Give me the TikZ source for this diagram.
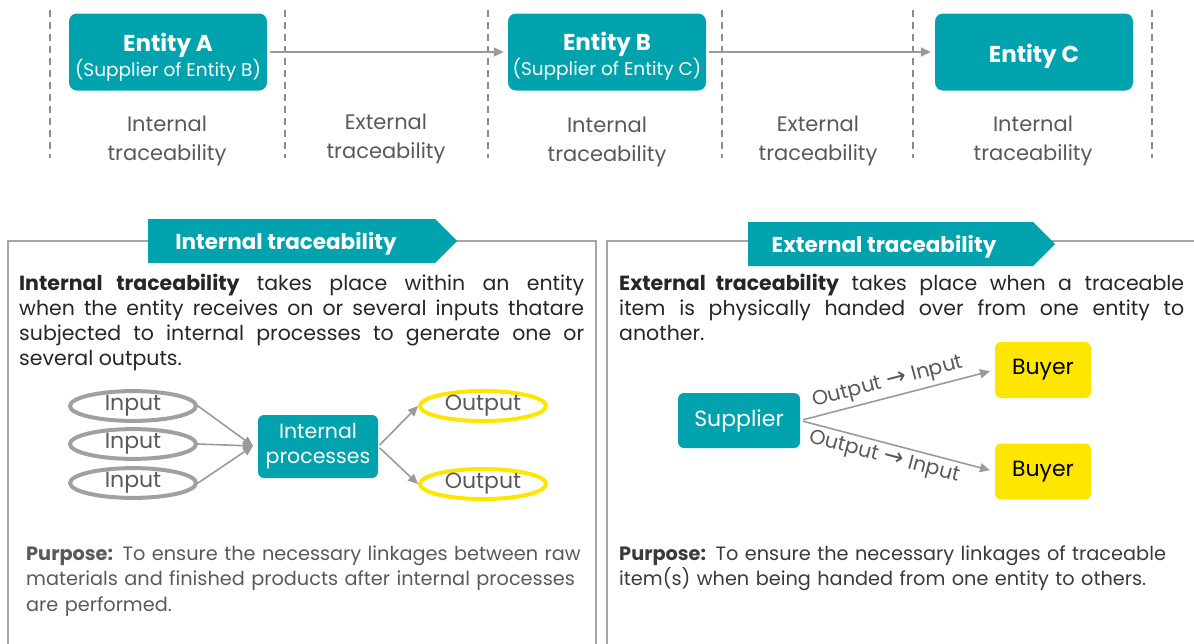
\documentclass[tikz,border=0pt]{standalone}
\usepackage{fontspec}
\setmainfont{Poppins}
\newfontfamily\symfont{DejaVu Sans}
\usetikzlibrary{arrows.meta,shapes.geometric}
\definecolor{teal0}{HTML}{00A3AD}
\definecolor{yel}{HTML}{FFE600}
\definecolor{arrg}{HTML}{9A9A9A}
\definecolor{ellg}{HTML}{A0A0A0}
\definecolor{txtg}{HTML}{595959}
\definecolor{txtd}{HTML}{262626}
\definecolor{txtm}{HTML}{3A3A3A}
\definecolor{panelg}{HTML}{A6A6A6}
\definecolor{dashg}{HTML}{8C8C8C}
\begin{document}
\begin{tikzpicture}[x=1pt,y=-1pt,
  ent/.style={rounded corners=8pt, fill=teal0, minimum width=198pt, minimum height=77pt, inner sep=0pt},
  enttxt/.style={text=white, align=center, inner sep=0pt, font=\fontsize{18.5}{25}\selectfont},
  toplab/.style={text=txtg, align=center, inner sep=0pt, font=\fontsize{21}{29}\selectfont},
  sep/.style={dashg, line width=1.3pt, dash pattern=on 7pt off 5pt},
  arr/.style={arrg, line width=1.6pt, -{Triangle[length=10pt,width=9pt]}},
  panel/.style={panelg, line width=2pt},
  bann/.style={text=white, inner sep=0pt, font=\bfseries\fontsize{21.5}{24}\selectfont},
  para/.style={text=txtd, text width=565pt, inner sep=0pt, align=justify, font=\fontsize{20.5}{25}\selectfont},
  purp/.style={text=txtg, text width=575pt, inner sep=0pt, align=left, font=\fontsize{19.3}{25.5}\selectfont},
  inell/.style={ellipse, draw=ellg, line width=4pt, minimum width=126pt, minimum height=28pt, inner sep=0pt, text=txtg, font=\fontsize{22}{24}\selectfont},
  outell/.style={inell, draw=yel},
  tealbox/.style={rounded corners=6pt, fill=teal0, text=white, align=center, inner sep=0pt, font=\fontsize{20.5}{25}\selectfont},
  buybox/.style={rounded corners=6pt, fill=yel, text=black, inner sep=0pt, minimum width=96pt, minimum height=56pt, font=\fontsize{22}{24}\selectfont},
  elab/.style={text=txtg, inner sep=4pt, font=\fontsize{20.5}{24}\selectfont}
]
\useasboundingbox (0,0) rectangle (1194,643);

% dashed separators
\foreach \xx in {50,285,488,722,913,1152} \draw[sep] (\xx,10) -- (\xx,158);

% entities
\node[ent] (A) at (168,52) {};
\node[ent] (B) at (607,52) {};
\node[ent] (C) at (1034,52) {};
\node[enttxt] (At) at (168,57) {{\bfseries\fontsize{23}{25}\selectfont Entity A}\\(Supplier of Entity B)};
\node[enttxt] (Bt) at (607,56.5) {{\bfseries\fontsize{23}{25}\selectfont Entity B}\\(Supplier of Entity C)};
\node[enttxt] (Ct) at (1034,56) {{\bfseries\fontsize{23}{25}\selectfont Entity C}};
\draw[arr, shorten <=3pt, shorten >=4pt] (A) -- (B);
\draw[arr, shorten <=3pt, shorten >=4pt] (B) -- (C);

\node[toplab] (l1) at (167,141) {Internal\\traceability};
\node[toplab] (l2) at (386,139) {External\\traceability};
\node[toplab] (l3) at (607,142) {Internal\\traceability};
\node[toplab] (l4) at (818,141) {External\\traceability};
\node[toplab] (l5) at (1033,141) {Internal\\traceability};

% panels
\draw[panel] (8,660) -- (8,241) -- (596,241) -- (596,660);
\draw[panel] (607,660) -- (607,241) -- (1200,241);
\fill[teal0] (148,219) -- (435,219) -- (457,241) -- (435,263) -- (148,263) -- cycle;
\node[bann] (h1) at (286,244) {Internal traceability};
\fill[teal0] (748,222) -- (1033,222) -- (1055,244) -- (1033,266) -- (748,266) -- cycle;
\node[bann] (h2) at (884,247) {External traceability};

% paragraphs
\node[para, anchor=base west] (p1) at (19,290) {\textbf{Internal traceability} takes place within an entity\linebreak when the entity receives on or several inputs thatare\linebreak subjected to internal processes to generate one or\linebreak several outputs.};
\node[para, anchor=base west] (p2) at (619,290) {\textbf{External traceability} takes place when a traceable\linebreak item is physically handed over from one entity to\linebreak another.};

% internal diagram
\node[inell] (in1) at (133,406) {Input};
\node[inell] (in2) at (133,444) {Input};
\node[inell] (in3) at (133,483) {Input};
\node[tealbox, minimum width=120pt, minimum height=63pt] (proc) at (318,446.5) {Internal\\processes};
\node[outell] (out1) at (483,406) {Output};
\node[outell] (out2) at (483,484) {Output};
\coordinate (pin) at (253,446);
\draw[arr] (in1.east) -- (pin);
\draw[arr] (in2.east) -- (pin);
\draw[arr] (in3.east) -- (pin);
\draw[arr, shorten <=2pt] (proc.east) -- (out1.west);
\draw[arr, shorten <=2pt] (proc.east) -- (out2.west);

% external diagram
\node[tealbox, minimum width=122pt, minimum height=55pt, font=\fontsize{22}{25}\selectfont] (sup) at (739,420.5) {Supplier};
\node[buybox] (b1) at (1043,370) {Buyer};
\node[buybox] (b2) at (1043,471.5) {Buyer};
\draw[arr, shorten <=3pt, shorten >=5pt] (sup.east) -- (b1.west) node[elab, pos=0.47, sloped, above] {Output {\symfont\fontsize{24}{24}\selectfont →} Input};
\draw[arr, shorten <=3pt, shorten >=5pt] (sup.east) -- (b2.west) node[elab, pos=0.45, sloped, below] {Output {\symfont\fontsize{24}{24}\selectfont →} Input};

% purposes
\node[purp, anchor=base west] (q1) at (26,560) {\textbf{Purpose:} To ensure the necessary linkages between raw\\materials and finished products after internal processes\\are performed.};
\node[purp, text=txtm, anchor=base west] (q2) at (619,560) {\textbf{Purpose:} To ensure the necessary linkages of traceable\\item(s) when being handed from one entity to others.};
\end{tikzpicture}
\end{document}
